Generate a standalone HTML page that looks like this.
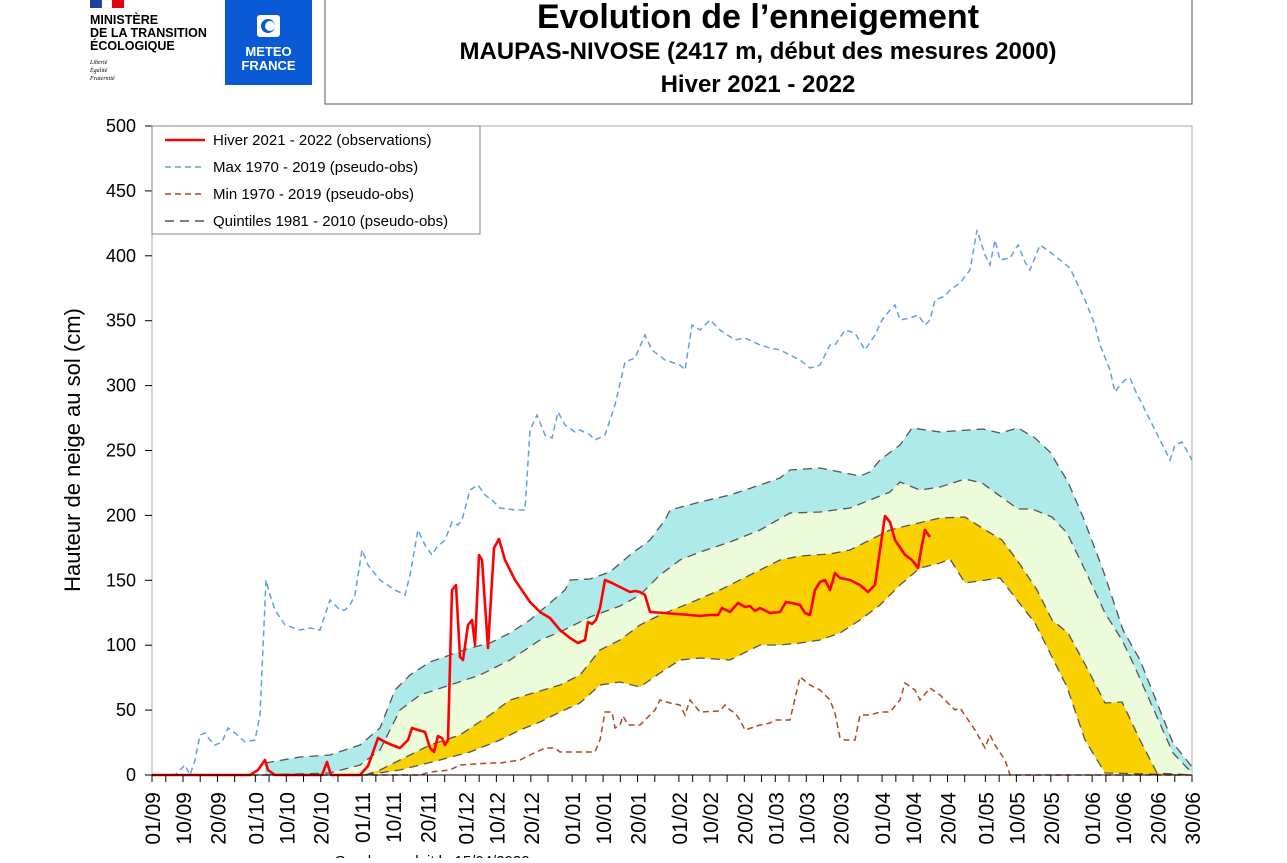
<!DOCTYPE html>
<html><head><meta charset="utf-8"><style>
body{margin:0;background:#fff;width:1287px;height:858px;overflow:hidden;font-family:"Liberation Sans",sans-serif}
</style></head><body>
<svg id="s" width="1287" height="858" xmlns="http://www.w3.org/2000/svg" font-family="Liberation Sans, sans-serif">
<rect x="90" y="0" width="12" height="8" fill="#1f3fa0"/><rect x="102" y="0" width="10" height="8" fill="#fff" stroke="#ccc" stroke-width="0.3"/><rect x="112" y="0" width="12" height="8" fill="#e1000f"/>
<text x="90" y="24" font-size="12.5" font-weight="bold">MINISTÈRE</text>
<text x="90" y="37" font-size="12.5" font-weight="bold">DE LA TRANSITION</text>
<text x="90" y="50" font-size="12.5" font-weight="bold">ÉCOLOGIQUE</text>
<text x="90" y="64" font-size="6" font-style="italic" font-family="Liberation Serif">Liberté</text>
<text x="90" y="72" font-size="6" font-style="italic" font-family="Liberation Serif">Égalité</text>
<text x="90" y="80" font-size="6" font-style="italic" font-family="Liberation Serif">Fraternité</text>
<rect x="225" y="0" width="87" height="85" fill="#0a5ad6"/>
<rect x="257" y="15" width="23" height="22" rx="3" fill="#fff"/><circle cx="268" cy="26" r="7" fill="#0a5ad6"/><circle cx="270" cy="26" r="5" fill="#fff"/>
<text x="268.5" y="56" font-size="13" font-weight="bold" fill="#fff" text-anchor="middle">METEO</text>
<text x="268.5" y="70" font-size="13" font-weight="bold" fill="#fff" text-anchor="middle">FRANCE</text>
<rect x="325" y="-2" width="867" height="106" fill="none" stroke="#555" stroke-width="1"/>
<text x="758" y="28" font-size="34" font-weight="bold" text-anchor="middle">Evolution de l’enneigement</text>
<text x="758" y="59" font-size="24" font-weight="bold" text-anchor="middle">MAUPAS-NIVOSE (2417 m, début des mesures 2000)</text>
<text x="758" y="92" font-size="24" font-weight="bold" text-anchor="middle">Hiver 2021 - 2022</text>
<g id="plot"></g>
<text transform="translate(80,450) rotate(-90)" font-size="22" text-anchor="middle">Hauteur de neige au sol (cm)</text>
<text x="432" y="866" font-size="15" text-anchor="middle">Graphe produit le 15/04/2022</text>
</svg>
<script>
const P=document.getElementById('plot');let h='';
const q80=[[265,763],[300,757],[330,755],[360,745],[380,728],[395,690],[410,675],[430,662],[450,655],[470,648],[490,643],[510,633],[530,620],[550,603],[565,590],[570,580],[590,579],[610,572],[630,555],[650,540],[665,520],[670,510],[700,502],[730,495],[760,485],[780,478],[790,470],[820,468],[840,472],[860,476],[870,472],[880,460],[900,445],[912,428],[940,432],[983,429],[1000,433],[1018,428],[1035,438],[1050,452],[1068,482],[1083,517],[1103,570],[1123,630],[1140,660],[1173,743],[1192,767]];
const q60=[[265,775],[330,773],[360,765],[380,750],[400,710],[420,695],[450,685],[480,675],[510,660],[540,640],[560,632],[590,617],[620,606],[640,595],[660,575],[680,560],[700,552],[730,542],[760,530],[790,513],[820,512],[850,508],[870,500],[890,492],[900,482],[920,490],[940,487],[965,479],[982,483],[1018,509],[1032,509],[1052,517],[1067,533],[1085,570],[1105,613],[1122,640],[1133,663],[1157,717],[1173,753],[1192,773]];
const q40=[[365,775],[380,770],[400,760],[430,745],[460,735],[490,715],[510,700],[530,694],[560,685],[580,675],[600,650],[620,640],[640,625],[660,615],[690,603],[720,590],[750,575],[780,560],[800,556],[830,554],[850,550],[870,540],[890,530],[910,525],[940,518],[965,517],[982,528],[1002,540],[1017,560],[1037,590],[1052,620],[1068,633],[1087,668],[1105,703],[1122,702],[1140,740],[1157,773],[1192,775]];
const q20=[[365,775],[400,770],[440,760],[470,752],[500,740],[520,730],[540,722],[560,712],[580,703],[600,685],[620,682],[640,687],[660,673],[680,660],[700,658],[730,660],[750,650],[760,645],[780,645],[800,643],[820,640],[840,633],[860,620],[880,605],[900,585],[920,568],[940,563],[950,559],[965,583],[1000,578],[1017,600],[1035,623],[1050,653],[1067,687],[1085,740],[1105,773],[1192,775]];
const mx=[[152,775],[175,775],[185,765],[190,775],[195,760],[200,735],[205,733],[210,740],[215,745],[222,742],[228,728],[235,733],[245,742],[255,740],[260,715],[266,580],[270,595],[275,610],[285,625],[300,630],[310,628],[320,630],[330,600],[340,610],[345,610],[350,605],[355,595],[362,550],[368,565],[380,580],[395,590],[405,595],[410,575],[418,530],[425,545],[432,555],[437,547],[445,540],[452,522],[458,525],[462,520],[470,490],[478,485],[485,495],[492,500],[500,508],[515,510],[525,510],[530,430],[537,415],[545,435],[552,438],[558,412],[565,425],[575,432],[580,430],[590,435],[595,440],[605,435],[615,405],[625,362],[635,358],[645,335],[652,350],[665,360],[680,365],[685,370],[692,325],[700,330],[710,320],[720,330],[735,340],[745,338],[760,345],[770,348],[780,350],[790,355],[800,360],[810,368],[820,365],[830,345],[835,345],[845,330],[855,333],[865,350],[875,335],[882,320],[890,310],[895,305],[900,320],[910,318],[918,315],[925,325],[930,320],[935,300],[945,296],[950,290],[960,283],[970,270],[977,230],[985,255],[990,265],[995,240],[1000,260],[1010,258],[1018,245],[1025,262],[1030,270],[1040,245],[1050,252],[1060,260],[1070,268],[1085,300],[1095,325],[1100,345],[1110,370],[1115,392],[1120,385],[1125,380],[1130,378],[1135,390],[1140,400],[1150,420],[1160,440],[1170,460],[1175,445],[1182,442],[1192,460]];
const mn=[[152,775],[420,775],[430,772],[450,770],[460,765],[490,763],[500,763],[520,760],[530,755],[545,748],[555,748],[560,752],[595,752],[600,740],[605,712],[612,712],[615,728],[620,725],[623,716],[628,725],[640,725],[655,710],[660,700],[670,703],[680,705],[685,715],[690,700],[700,712],[720,711],[725,705],[730,710],[735,713],[740,720],[745,730],[760,725],[770,723],[775,720],[790,720],[800,677],[810,685],[820,690],[830,700],[835,713],[840,738],[845,740],[855,740],[860,715],[870,715],[880,712],[890,712],[900,700],[905,683],[915,690],[920,700],[930,688],[940,695],[950,705],[955,710],[960,708],[975,730],[985,748],[990,735],[995,745],[1005,760],[1010,775],[1192,775]];
const ob=[[152,775],[250,775],[258,770],[265,760],[268,770],[275,775],[322,775],[327,762],[331,775],[360,775],[368,766],[372,755],[378,738],[385,742],[392,745],[400,748],[408,740],[412,728],[418,730],[425,732],[430,748],[434,752],[438,736],[442,738],[445,745],[448,740],[452,590],[456,585],[460,657],[463,660],[468,625],[472,620],[475,645],[479,555],[482,560],[488,648],[494,548],[499,539],[505,560],[515,580],[530,602],[540,612],[550,618],[560,630],[570,638],[578,643],[585,640],[588,622],[592,624],[596,620],[600,608],[605,580],[612,583],[620,587],[630,592],[635,591],[640,592],[645,595],[650,612],[665,613],[690,615],[700,616],[710,615],[718,615],[722,608],[730,612],[738,603],[745,607],[750,606],[755,611],[760,608],[770,613],[780,612],[786,602],[792,603],[800,605],[805,613],[810,615],[815,590],[820,582],[825,580],[830,590],[835,573],[840,578],[850,580],[860,585],[868,592],[875,585],[880,550],[885,516],[890,522],[895,540],[905,555],[912,560],[918,568],[922,545],[925,530],[930,537]];
const pts=a=>a.map(p=>p.join(',')).join(' ');
const band=(a,b,c)=>`<polygon points="${pts(a)} ${pts(b.slice().reverse())}" fill="${c}"/>`;
h+=`<rect x="152" y="126" width="1040" height="649" fill="#fff" stroke="#aaa" stroke-width="1"/>`;
h+=band(q80,q60,'#aeeaea')+band(q60,q40,'#ecfbd9')+band(q40,q20,'#f9d000');
for(const q of [q80,q60,q40,q20]) h+=`<polyline points="${pts(q)}" fill="none" stroke="#555" stroke-width="1.3" stroke-dasharray="9,6"/>`;
h+=`<polyline points="${pts(mx)}" fill="none" stroke="#5aa0ee" stroke-width="1.5" stroke-dasharray="6,4"/>`;
h+=`<polyline points="${pts(mn)}" fill="none" stroke="#b5471b" stroke-width="1.5" stroke-dasharray="6,4"/>`;
h+=`<polyline points="${pts(ob)}" fill="none" stroke="#f00" stroke-width="2.6" stroke-linejoin="round"/>`;
for(let v=0;v<=500;v+=50){const y=775-v*1.298;h+=`<line x1="145" x2="152" y1="${y}" y2="${y}" stroke="#000"/><text x="136" y="${y+6}" font-size="18" text-anchor="end">${v}</text>`;}
h+=`<line x1="152" x2="1192" y1="775" y2="775" stroke="#000"/>`;
const ml=[[9,30],[10,31],[11,30],[12,31],[1,31],[2,28],[3,31],[4,30],[5,31],[6,30]];
let off=0;const k=1040/302;
ml.forEach(([m,n])=>{const mm=String(m).padStart(2,'0');
 [1,5,10,15,20,25].forEach(d=>{const x=152+(off+d-1)*k;h+=`<line x1="${x}" x2="${x}" y1="775" y2="782" stroke="#000"/>`;
  if(d==1||d==10||d==20)h+=`<text transform="translate(${x+8},${792}) rotate(-90)" font-size="21" text-anchor="end">${String(d).padStart(2,'0')}/${mm}</text>`;});
 off+=n;});
h+=`<line x1="1192" x2="1192" y1="775" y2="782" stroke="#000"/><text transform="translate(1200,792) rotate(-90)" font-size="21" text-anchor="end">30/06</text>`;
h+=`<rect x="152" y="126" width="328" height="108" fill="#fff" stroke="#888"/>`;
const L=[['Hiver 2021 - 2022 (observations)','#f00','',2.6],['Max 1970 - 2019 (pseudo-obs)','#5aa0ee','6,4',1.5],['Min 1970 - 2019 (pseudo-obs)','#b5471b','6,4',1.5],['Quintiles 1981 - 2010 (pseudo-obs)','#555','9,6',1.5]];
L.forEach((e,i)=>{const y=140+i*27;h+=`<line x1="165" x2="205" y1="${y}" y2="${y}" stroke="${e[1]}" stroke-width="${e[3]}" stroke-dasharray="${e[2]}"/><text x="213" y="${y+5}" font-size="15">${e[0]}</text>`;});
P.innerHTML=h;
</script>
</body></html>
